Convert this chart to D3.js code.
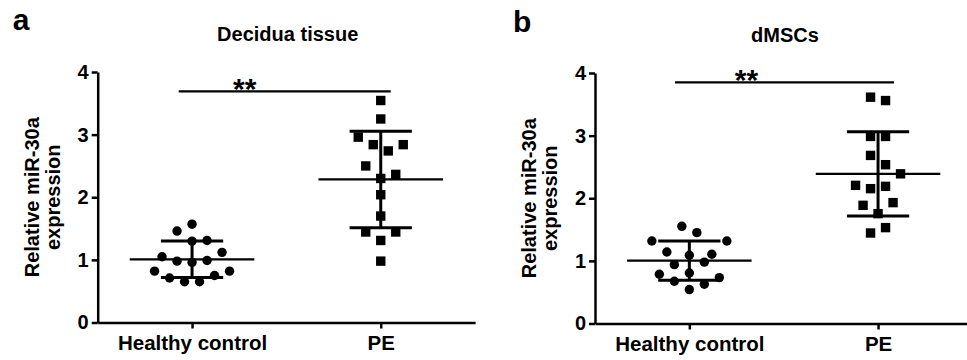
<!DOCTYPE html>
<html>
<head>
<meta charset="utf-8">
<script src="https://cdn.jsdelivr.net/npm/d3@7"></script>
<style>
	body { margin: 0; background: #fff; }
	svg { display: block; }
	text { font-family: Arial, 'Liberation Sans', sans-serif; font-weight: bold; fill: #000; }
</style>
</head>
<body>
<svg id="chart" width="967" height="360"></svg>
<script>
const groups = ['Healthy control', 'PE']
const yTicks = [0, 1, 2, 3, 4]

// panel a - decidua tissue
const deciduaHealthy = [1.57, 1.46, 1.30, 1.31, 1.05, 0.98, 0.96, 0.99, 1.12, 0.82, 0.82, 0.71, 0.75, 0.65, 0.65]
const deciduaHealthyCol = [0, -2, 0, 2, -4, -2, 0, 2, 4, -5, 5, -3, 3, -1, 1]
const deciduaPE = [3.545, 3.25, 2.96, 2.84, 2.84, 2.74, 2.50, 2.365, 2.30, 2.04, 1.70, 1.445, 1.445, 1.31, 0.98]
const deciduaPECol = [0, 0, -3, -1, 3, 1, -2, 2, 0, 0, 0, -2, 2, 0, 0]

// panel b - dMSCs
const dmscHealthy = [1.552, 1.451, 1.318, 1.318, 1.142, 1.09, 1.105, 0.94, 0.98, 0.786, 0.807, 0.733, 0.675, 0.627, 0.542]
const dmscHealthyCol = [-1, 1, -5, 5, -3, 0, 3, -2, 2, -4, 0, 4, -2, 2, 0]
const dmscPE = [3.614, 3.56, 2.987, 2.987, 2.684, 2.536, 2.39, 2.206, 2.153, 2.19, 1.887, 1.93, 1.754, 1.531, 1.445]
const dmscPECol = [-1, 1, -1, 1, -1, 1, 3, -3, -1, 1, -2, 2, 0, 1, -1]

const sigLevel = [3.69, 3.85]
const sigLabel = '**'

const panels = [
	{ letter: 'a', title: 'Decidua tissue', left: 97.7, top: 0, sig: sigLevel[0], sigFrom: 81, sigTo: 293,
		sets: [[deciduaHealthy, deciduaHealthyCol], [deciduaPE, deciduaPECol]] },
	{ letter: 'b', title: 'dMSCs', left: 595, top: 1, sig: sigLevel[1], sigFrom: 80, sigTo: 299,
		sets: [[dmscHealthy, dmscHealthyCol], [dmscPE, dmscPECol]] }
]

const svg = d3.select('#chart')
const plotW = 377.4

const x = d3.scalePoint().domain(groups).range([0, plotW]).padding(0.5)
const y = d3.scaleLinear().domain([0, 4]).range([322.5, 72])
const jitter = d3.scaleLinear().domain([-5, 5]).range([-37.5, 37.5])
const step = x.step()

panels.forEach(p => {
	const g = svg.append('g').attr('transform', `translate(${p.left},${p.top})`)

	g.append('text')
		.attr('x', p.letter == 'a' ? -85 : -82)
		.attr('y', p.letter == 'a' ? 30 : 31)
		.style('font-size', '30px')
		.text(p.letter)

	g.append('text')
		.attr('x', 190)
		.attr('y', 41)
		.attr('text-anchor', 'middle')
		.style('font-size', '20px')
		.text(p.title)

	// y axis
	const yAxis = g.append('g')
		.call(d3.axisLeft(y).tickValues(yTicks).tickFormat(d3.format('d')).tickSize(6).tickSizeOuter(0).tickPadding(3))
	yAxis.selectAll('text').style('font-size', '20px')

	// x axis
	const xAxis = g.append('g')
		.attr('transform', `translate(0,${y(0)})`)
		.call(d3.axisBottom(x).tickSize(6).tickSizeOuter(0).tickPadding(7))
	xAxis.selectAll('text').style('font-size', '20.5px')

	g.selectAll('.domain, .tick line').attr('stroke', '#000').attr('stroke-width', 2.5)

	const yl = g.append('text')
		.attr('transform', `translate(-59,${(y(0) + y(4)) / 2}) rotate(-90)`)
		.attr('text-anchor', 'middle')
		.style('font-size', '20px')
	yl.append('tspan').attr('x', 0).attr('y', 0).text('Relative miR-30a')
	yl.append('tspan').attr('x', 0).attr('y', 21).text('expression')

	// points
	p.sets.forEach(([vals, cols], i) => {
		const cx = x(groups[i])
		const pts = vals.map((v, k) => ({ v, c: cols[k] }))
		if (i == 0) {
			g.selectAll(null)
				.data(pts)
				.enter()
				.append('circle')
				.attr('cx', d => cx + jitter(d.c))
				.attr('cy', d => y(d.v))
				.attr('r', 4.7)
				.attr('fill', '#000')
		} else {
			g.selectAll(null)
				.data(pts)
				.enter()
				.append('rect')
				.attr('x', d => cx + jitter(d.c) - 4.7)
				.attr('y', d => y(d.v) - 4.7)
				.attr('width', 9.4)
				.attr('height', 9.4)
				.attr('fill', '#000')
		}

		// mean +- sd
		const m = d3.mean(vals)
		const sd = d3.deviation(vals)
		const bars = g.append('g').attr('stroke', '#000')
		bars.append('line')
			.attr('x1', cx - step * 0.33).attr('x2', cx + step * 0.33)
			.attr('y1', y(m)).attr('y2', y(m))
			.attr('stroke-width', 2.2)
		bars.append('line')
			.attr('x1', cx).attr('x2', cx)
			.attr('y1', y(m + sd)).attr('y2', y(m - sd))
			.attr('stroke-width', 3)
		;[m + sd, m - sd].forEach(v => {
			bars.append('line')
				.attr('x1', cx - step * 0.165).attr('x2', cx + step * 0.165)
				.attr('y1', y(v)).attr('y2', y(v))
				.attr('stroke-width', 3)
		})
	})

	// significance
	g.append('line')
		.attr('x1', p.sigFrom).attr('x2', p.sigTo)
		.attr('y1', y(p.sig)).attr('y2', y(p.sig))
		.attr('stroke', '#000').attr('stroke-width', 2.2)
	g.append('text')
		.attr('x', (p.sigFrom + p.sigTo) / 2 - 40 + (p.letter == 'b' ? 2 : 0))
		.attr('y', y(p.sig) + 8)
		.attr('text-anchor', 'middle')
		.style('font-size', '30px')
		.text(sigLabel)
})
</script>
</body>
</html>
